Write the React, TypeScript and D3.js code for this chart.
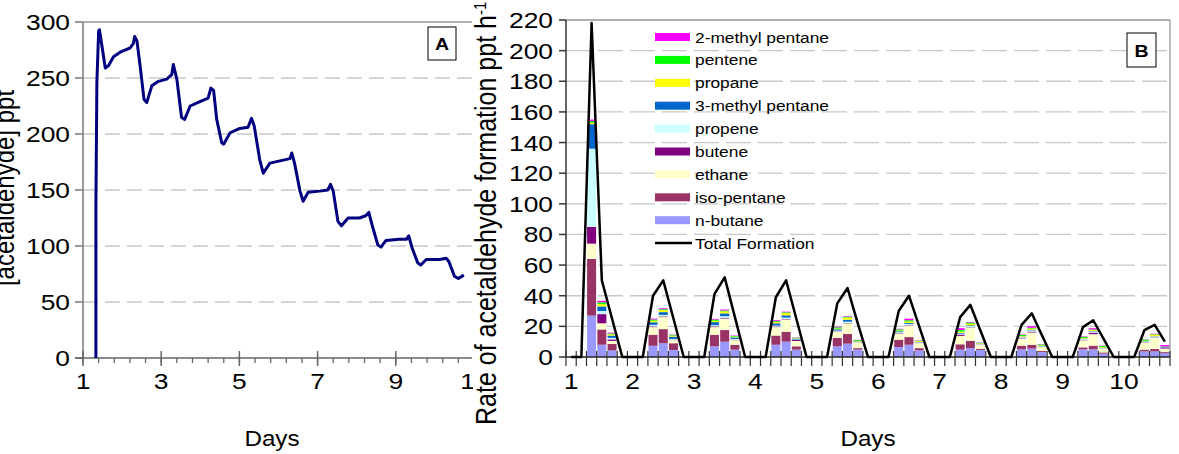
import * as d3 from 'd3';

const FONT = "'Liberation Sans', Arial, sans-serif";

// ---- panel A: acetaldehyde concentration ----
const daysA = [1.33, 1.33, 1.355, 1.4, 1.42, 1.47, 1.57, 1.65, 1.78, 1.95, 2.21, 2.29, 2.32, 2.38, 2.46, 2.56, 2.63, 2.76, 2.93, 3.14, 3.27, 3.31, 3.4, 3.52, 3.6, 3.74, 3.99, 4.2, 4.27, 4.34, 4.42, 4.55, 4.6, 4.76, 5.01, 5.22, 5.31, 5.38, 5.52, 5.61, 5.78, 6.04, 6.29, 6.34, 6.41, 6.55, 6.63, 6.76, 7.05, 7.26, 7.33, 7.4, 7.52, 7.61, 7.78, 8.07, 8.23, 8.31, 8.4, 8.54, 8.62, 8.75, 9.09, 9.27, 9.33, 9.42, 9.56, 9.64, 9.78, 10.12, 10.29, 10.36, 10.5, 10.6, 10.74];
const concA = [0, 135, 246, 292, 293, 282, 259, 261, 269, 273, 277, 281, 287, 283, 261, 231, 228, 243, 247, 249, 253, 262, 249, 215, 213, 225, 229, 232, 241, 239, 213, 192, 191, 201, 205, 206, 214, 207, 177, 165, 174, 176, 178, 183, 174, 149, 140, 148, 149, 150, 155, 149, 122, 118, 125, 125, 127, 130, 118, 101, 99, 105, 106, 106, 109, 98, 85, 83, 88, 88, 89, 86, 73, 71, 74];
const ticksA = [0, 50, 100, 150, 200, 250, 300];
const dayTicksA = [1, 3, 5, 7, 9, 11];

// ---- panel B: formation rate, 4-hour categories ----
const nCats = 59;
const dayLabelsB = ['1', '2', '3', '4', '5', '6', '7', '8', '9', '10'];
const totalFormation = [0, 0, 218, 50, 25, 0, 0, 0, 40, 50, 25, 0, 0, 0, 41, 52, 26, 0, 0, 0, 39, 50, 25, 0, 0, 0, 35, 45, 22, 0, 0, 0, 30, 40, 20, 0, 0, 0, 26, 34, 17, 0, 0, 0, 21, 28.5, 14, 0, 0, 0, 19.5, 24, 12, 0, 0, 0, 17.5, 21, 10];
const barCats = [2, 3, 4, 8, 9, 10, 14, 15, 16, 20, 21, 22, 26, 27, 28, 32, 33, 34, 38, 39, 40, 44, 45, 46, 50, 51, 52, 56, 57, 58];
const nButane = [27, 8, 4.3, 7.3, 9, 4.6, 7, 10, 4.8, 8, 10, 4.8, 7, 8.7, 4.8, 6.5, 8, 4.3, 4.8, 5.8, 4.6, 5, 5.5, 3.3, 5, 5, 2.2, 3.7, 3.7, 2.6];
const isoPentane = [37, 10, 4.2, 7.2, 9.2, 4.4, 7.5, 7.6, 3.2, 6, 6.5, 2.2, 5.4, 6.3, 1, 4.8, 5, 1.5, 3.5, 4.8, 0.8, 2.4, 2.5, 0.7, 1.3, 2.4, 0.8, 1.1, 1.5, 0.6];
const ethane = [10, 4, 2, 5, 7.8, 2, 5, 7.5, 3, 5.5, 8, 3.5, 4, 7, 3.5, 4, 7.5, 3.3, 5.5, 8.5, 2.6, 4.6, 8, 2.5, 4.6, 7.5, 2.5, 4.5, 7.3, 2];
const butene = [11, 6, 1, 0.5, 0.5, 0.3, 0.5, 0.5, 0.3, 0.4, 0.4, 0.6, 0.3, 0.3, 0.2, 0.3, 0.3, 0.2, 0.9, 0.3, 0.2, 0.3, 0.6, 0.2, 0.3, 1, 0.2, 0.3, 0.3, 0.5];
const propene = [51, 2, 1, 1, 1, 0.5, 0.8, 1, 0.5, 0.6, 0.8, 0.3, 0.6, 0.8, 0.3, 0.6, 0.8, 0.3, 0.6, 0.8, 0.3, 0.6, 0.8, 0.3, 0.5, 0.8, 0.3, 0.5, 0.6, 0.2];
const methylPentane3 = [16, 3, 1.5, 1.7, 1.8, 1.5, 2, 1.9, 1, 1.5, 1.5, 0.6, 0.8, 1.2, 0.3, 0.6, 0.6, 0.2, 0.5, 0.5, 0.2, 0.4, 0.4, 0.2, 0.3, 0.3, 0.2, 0.2, 0.2, 0.5];
const propane = [1, 1.5, 0.8, 1, 1.3, 0.6, 0.8, 1.3, 0.5, 0.8, 1.5, 0.3, 0.5, 1.5, 0.3, 0.5, 1, 0.6, 0.8, 1, 0.3, 0.4, 0.8, 0.4, 0.4, 0.6, 0.4, 0.3, 1, 0.2];
const pentene = [1, 1.2, 0.6, 0.8, 0.6, 0.4, 0.8, 0.6, 0.4, 0.6, 0.5, 0.3, 0.8, 0.6, 0.6, 0.8, 0.8, 0.3, 1, 0.8, 0.3, 0.8, 0.5, 0.6, 0.8, 0.4, 0.6, 0.8, 0.3, 0.2];
const methylPentane2 = [1, 1, 0.5, 0.6, 0.6, 0.3, 0.5, 0.6, 0.3, 0.6, 0.4, 0.2, 0.4, 0.4, 0.2, 0.3, 1, 0.2, 1.2, 0.4, 0.2, 0.3, 1, 0.2, 0.3, 0.8, 0.2, 0.2, 0.3, 1];
const ticksB = d3.range(0, 221, 20);

// stack order bottom -> top
const species = [
  { key: 'n-butane', color: '#9999FF', values: nButane },
  { key: 'iso-pentane', color: '#993366', values: isoPentane },
  { key: 'ethane', color: '#FFFFCC', values: ethane },
  { key: 'butene', color: '#800080', values: butene },
  { key: 'propene', color: '#CCFFFF', values: propene },
  { key: '3-methyl pentane', color: '#0066CC', values: methylPentane3 },
  { key: 'propane', color: '#FFFF00', values: propane },
  { key: 'pentene', color: '#00FF00', values: pentene },
  { key: '2-methyl pentane', color: '#FF00FF', values: methylPentane2 },
];

function T({ x, y, size = 22, sx = 1.2, anchor = 'middle', weight = 'normal', children }: any) {
  return (
    <text
      transform={`translate(${x},${y}) scale(${sx},1)`}
      textAnchor={anchor}
      fontSize={size}
      fontWeight={weight}
      fontFamily={FONT}
      fill="#000"
    >
      {children}
    </text>
  );
}

export default function App() {
  const W = 1179;
  const H = 454;

  // panel A scales
  const xA = d3.scaleLinear().domain([1, 11]).range([83, 474]);
  const yA = d3.scaleLinear().domain([0, 300]).range([358, 22]);
  const lineA = d3
    .line<number>()
    .x((_, i) => xA(daysA[i]))
    .y((d) => yA(d));
  const minorA = d3.range(0, 26).map((i) => 1 + i * 0.4);

  // panel B scales
  const cats = d3.range(nCats);
  const xB = d3.scaleBand<number>().domain(cats).range([566, 1170]);
  const yB = d3.scaleLinear().domain([0, 220]).range([357, 20]);
  const bw = xB.bandwidth();

  const table = cats.map((c) => {
    const row: any = { cat: c };
    const j = barCats.indexOf(c);
    species.forEach((s) => (row[s.key] = j >= 0 ? s.values[j] : 0));
    return row;
  });
  const stacked = d3.stack<any>().keys(species.map((s) => s.key))(table);
  const lineB = d3
    .line<number>()
    .x((_, i) => xB(i)! + bw / 2)
    .y((d) => yB(d));

  const legendItems = [...species].reverse();

  return (
    <svg width={W} height={H} style={{ position: 'absolute', left: 0, top: 0, background: '#fff' }}>
      <rect width={W} height={H} fill="#fff" />

      {/* ===== Panel A ===== */}
      {ticksA.slice(1, -1).map((t) => (
        <line key={t} x1={xA(1)} x2={472} y1={yA(t)} y2={yA(t)} stroke="#c8c8c8" strokeWidth={1.3} strokeDasharray="15,7" />
      ))}
      <line x1={xA(1)} x2={472} y1={yA(300)} y2={yA(300)} stroke="#999" strokeWidth={1.3} />
      <line x1={xA(1)} x2={xA(1)} y1={yA(300)} y2={yA(0)} stroke="#777" strokeWidth={1.5} />
      {ticksA.map((t) => (
        <g key={t}>
          <line x1={xA(1) - 8} x2={xA(1)} y1={yA(t)} y2={yA(t)} stroke="#777" strokeWidth={1.5} />
          <T x={xA(1) - 13} y={yA(t) + 8} anchor="end">{t}</T>
        </g>
      ))}
      <line x1={xA(1) - 8} x2={472} y1={yA(0)} y2={yA(0)} stroke="#666" strokeWidth={1.5} />
      {minorA.map((d) => (
        <line key={d} x1={xA(d)} x2={xA(d)} y1={yA(0)} y2={yA(0) + 5} stroke="#666" strokeWidth={1.3} />
      ))}
      {dayTicksA.map((d) => (
        <g key={d}>
          <line x1={xA(d)} x2={xA(d)} y1={yA(0) - 7} y2={yA(0) + 8} stroke="#666" strokeWidth={1.5} />
          <T x={xA(d)} y={389}>{d}</T>
        </g>
      ))}
      <path d={lineA(concA) ?? ''} fill="none" stroke="#000080" strokeWidth={3} strokeLinejoin="round" />
      <rect x={428} y={27} width={28} height={33} fill="#fff" stroke="#000" strokeWidth={1} />
      <T x={442} y={50} size={17} sx={1.15} weight="bold">A</T>
      <T x={272} y={446} size={22} sx={1.1}>Days</T>
      <text
        transform="translate(14,188) rotate(-90) scale(1,1.15)"
        textAnchor="middle"
        fontSize={24}
        fontFamily={FONT}
      >
        [acetaldehyde] ppt
      </text>

      {/* ===== Panel B ===== */}
      <rect x={473} y={0} width={W - 473} height={H} fill="#fff" />
      {ticksB.slice(1, -1).map((t) => (
        <line key={t} x1={566} x2={1170} y1={yB(t)} y2={yB(t)} stroke="#c8c8c8" strokeWidth={1.3} strokeDasharray="25,7" />
      ))}
      <line x1={566} x2={1170} y1={yB(220)} y2={yB(220)} stroke="#999" strokeWidth={1.3} />
      <line x1={1170} x2={1170} y1={yB(220)} y2={yB(0)} stroke="#999" strokeWidth={1.3} />

      {stacked.map((layer, li) => (
        <g key={layer.key} fill={species[li].color}>
          {layer.map((d, i) =>
            d[1] - d[0] > 0 ? (
              <rect
                key={i}
                x={xB(i)! + bw * 0.06}
                width={bw * 0.88}
                y={yB(d[1])}
                height={yB(d[0]) - yB(d[1])}
              />
            ) : null
          )}
        </g>
      ))}

      <line x1={566} x2={566} y1={yB(220)} y2={yB(0)} stroke="#333" strokeWidth={1.5} />
      {ticksB.map((t) => (
        <g key={t}>
          <line x1={559} x2={566} y1={yB(t)} y2={yB(t)} stroke="#333" strokeWidth={1.5} />
          <T x={553} y={yB(t) + 8} anchor="end">{t}</T>
        </g>
      ))}
      <line x1={566} x2={1170} y1={yB(0)} y2={yB(0)} stroke="#222" strokeWidth={1.5} />
      {d3.range(nCats + 1).map((i) => (
        <line key={i} x1={566 + i * bw} x2={566 + i * bw} y1={yB(0) - 6} y2={yB(0) + 9} stroke="#333" strokeWidth={1.2} />
      ))}
      {dayLabelsB.map((lbl, k) => (
        <T key={lbl} x={xB(k * 6)! + bw / 2} y={389}>{lbl}</T>
      ))}
      <path d={lineB(totalFormation) ?? ''} fill="none" stroke="#000" strokeWidth={2.5} strokeLinejoin="round" />

      {legendItems.map((s, i) => (
        <g key={s.key} transform={`translate(655,${37 + i * 22.9})`}>
          <rect x={0} y={-4} width={35} height={8} fill={s.color} />
          <T x={40} y={5.5} size={15.5} sx={1.12} anchor="start">{s.key}</T>
        </g>
      ))}
      <g transform={`translate(655,${37 + 9 * 22.9})`}>
        <line x1={0} x2={37} y1={0} y2={0} stroke="#000" strokeWidth={2.5} />
        <T x={40} y={5.5} size={15.5} sx={1.12} anchor="start">Total Formation</T>
      </g>

      <rect x={1127} y={33} width={29} height={34} fill="#fff" stroke="#000" strokeWidth={1} />
      <T x={1141.5} y={57} size={17} sx={1.15} weight="bold">B</T>
      <T x={868} y={446} size={22} sx={1.1}>Days</T>
      <text
        transform="translate(496,425) rotate(-90) scale(1,1.15)"
        textAnchor="start"
        fontSize={25}
        fontFamily={FONT}
      >
        Rate of acetaldehyde formation ppt h
        <tspan fontSize={15} dy={-9}>-1</tspan>
      </text>
    </svg>
  );
}
